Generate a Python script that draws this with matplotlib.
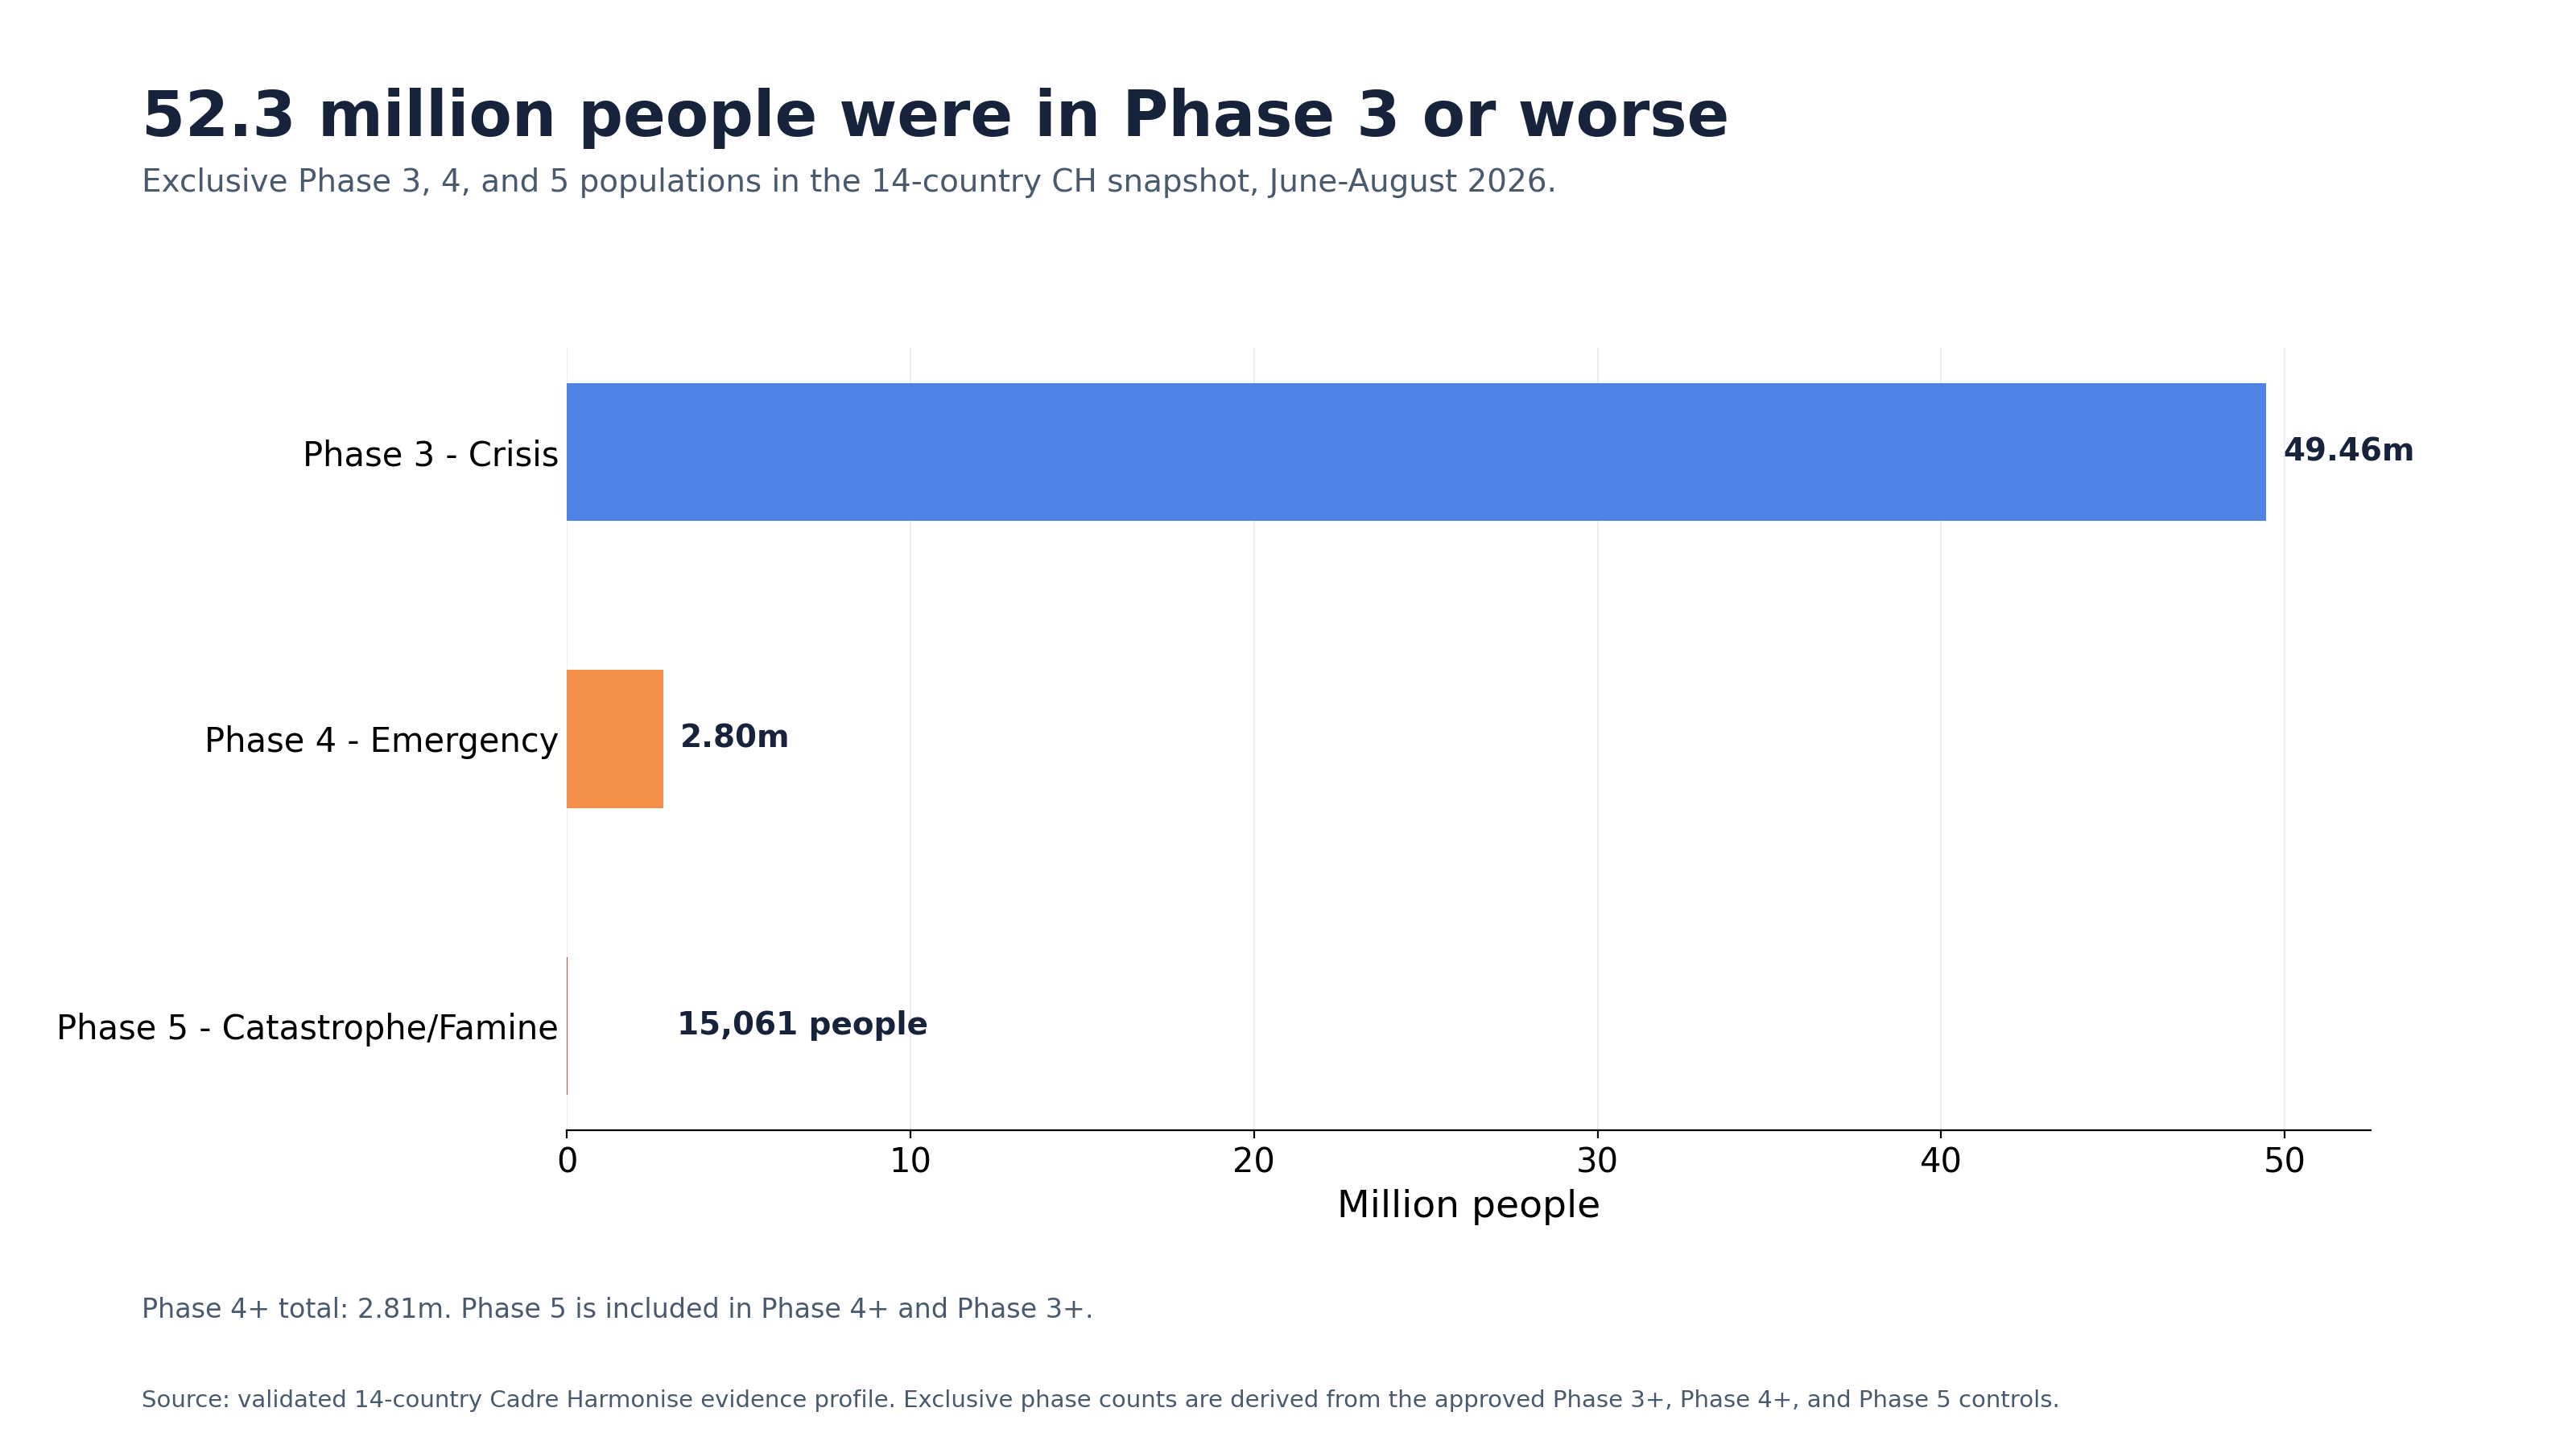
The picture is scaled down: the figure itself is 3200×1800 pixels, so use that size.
import matplotlib.pyplot as plt

# exclusive phase populations, million people
phases = ["Phase 3 - Crisis", "Phase 4 - Emergency", "Phase 5 - Catastrophe/Famine"]
millions = [49.46, 2.80, 0.015061]
value_labels = ["49.46m", "2.80m", "15,061 people"]
bar_colors = ["#4f83e3", "#f28f4b", "#d6404a"]

title = "52.3 million people were in Phase 3 or worse"
subtitle = "Exclusive Phase 3, 4, and 5 populations in the 14-country CH snapshot, June-August 2026."
note = "Phase 4+ total: 2.81m. Phase 5 is included in Phase 4+ and Phase 3+."
source = ("Source: validated 14-country Cadre Harmonise evidence profile. Exclusive phase counts "
          "are derived from the approved Phase 3+, Phase 4+, and Phase 5 controls.")

dark = "#17233b"
grey = "#4a5a6e"

fig = plt.figure(figsize=(16, 9), dpi=200)
ax = fig.add_axes([0.22, 0.22, 0.7003, 0.54])

ax.barh(phases, millions, height=0.48, color=bar_colors, zorder=2)
ax.invert_yaxis()
ax.set_xlim(0, 52.5)

# value labels just right of each bar (tiny bar gets pushed out a bit)
for i, (v, lab) in enumerate(zip(millions, value_labels)):
    x = max(v, 2.7) + 0.5
    ax.text(x, i, lab, va="center", ha="left", fontsize=14,
            fontweight="bold", color=dark)

ax.set_xlabel("Million people", fontsize=17)
ax.tick_params(axis="x", labelsize=15)
ax.tick_params(axis="y", labelsize=15, length=0, pad=3.5)
ax.grid(axis="x", color="#eeeeee", linewidth=0.8, zorder=0)
ax.set_axisbelow(True)
for side in ["top", "right", "left"]:
    ax.spines[side].set_visible(False)

fig.text(0.055, 0.906, title, fontsize=28, fontweight="bold", color=dark, va="baseline")
fig.text(0.055, 0.868, subtitle, fontsize=14, color=grey, va="baseline")
fig.text(0.055, 0.0906, note, fontsize=12, color=grey, va="baseline")
fig.text(0.055, 0.029, source, fontsize=10.5, color=grey, va="baseline")

plt.savefig("out.png", dpi=200)
plt.close()
